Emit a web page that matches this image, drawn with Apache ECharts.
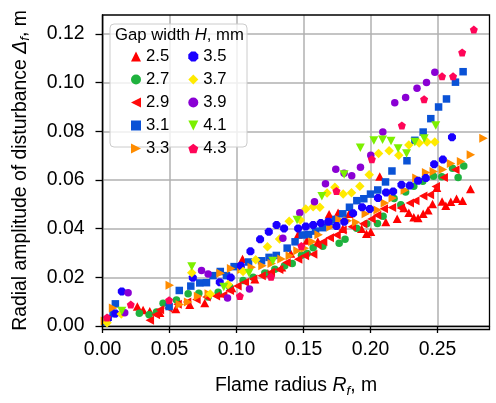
<!DOCTYPE html>
<html><head><meta charset="utf-8">
<script src="https://cdn.jsdelivr.net/npm/echarts@6/dist/echarts.min.js"></script>
<style>html,body{margin:0;padding:0;background:#fff}#c{width:496px;height:403px}</style>
</head><body><div id="c"></div><script>
const gapWidths = ['2.5','2.7','2.9','3.1','3.3','3.5','3.7','3.9','4.1','4.3'];
const xTicks = [0, 0.05, 0.10, 0.15, 0.20, 0.25];
const yTicks = [0, 0.02, 0.04, 0.06, 0.08, 0.10, 0.12];

const H25 = [[0.0260,0.0080],[0.0303,0.0066],[0.0353,0.0061],[0.0428,0.0054],[0.0547,0.0070],[0.0651,0.0087],[0.0763,0.0095],[0.0875,0.0135],[0.0965,0.0156],[0.1045,0.0275],[0.1137,0.0192],[0.1234,0.0217],[0.1338,0.0241],[0.1405,0.0298],[0.1460,0.0376],[0.1525,0.0351],[0.1607,0.0347],[0.1691,0.0459],[0.1758,0.0465],[0.1793,0.0400],[0.1840,0.0461],[0.1933,0.0400],[0.1970,0.0379],[0.2002,0.0387],[0.2069,0.0614],[0.2114,0.0427],[0.2199,0.0441],[0.2249,0.0485],[0.2286,0.0465],[0.2323,0.0447],[0.2355,0.0444],[0.2393,0.0461],[0.2430,0.0476],[0.2463,0.0501],[0.2495,0.0568],[0.2534,0.0512],[0.2562,0.0494],[0.2599,0.0511],[0.2642,0.0523],[0.2687,0.0515],[0.2746,0.0563]];
const H27 = [[0.0025,0.0026],[0.0275,0.0052],[0.0348,0.0046],[0.0403,0.0058],[0.0452,0.0094],[0.0552,0.0107],[0.0639,0.0133],[0.0719,0.0135],[0.0788,0.0119],[0.0863,0.0139],[0.0950,0.0160],[0.1049,0.0187],[0.1124,0.0200],[0.1211,0.0218],[0.1286,0.0233],[0.1360,0.0248],[0.1416,0.0257],[0.1485,0.0291],[0.1528,0.0298],[0.1572,0.0322],[0.1644,0.0328],[0.1766,0.0340],[0.1810,0.0356],[0.1896,0.0402],[0.1972,0.0420],[0.2052,0.0421],[0.2094,0.0451],[0.2176,0.0524],[0.2226,0.0498],[0.2262,0.0551],[0.2323,0.0574],[0.2390,0.0595],[0.2470,0.0615],[0.2532,0.0613],[0.2612,0.0648],[0.2654,0.0610],[0.2696,0.0657]];
const H29 = [[0.0353,0.0024],[0.0398,0.0046],[0.0428,0.0067],[0.0490,0.0074],[0.0560,0.0089],[0.0631,0.0099],[0.0701,0.0109],[0.0776,0.0119],[0.0846,0.0123],[0.0900,0.0126],[0.0950,0.0146],[0.1007,0.0164],[0.1062,0.0180],[0.1124,0.0193],[0.1187,0.0207],[0.1256,0.0221],[0.1318,0.0232],[0.1373,0.0261],[0.1460,0.0274],[0.1510,0.0289],[0.1572,0.0295],[0.1604,0.0333],[0.1646,0.0346],[0.1696,0.0363],[0.1746,0.0374],[0.1791,0.0394],[0.1860,0.0408],[0.1945,0.0420],[0.2007,0.0440],[0.2049,0.0455],[0.2099,0.0482],[0.2160,0.0487],[0.2226,0.0485],[0.2293,0.0505],[0.2334,0.0515],[0.2393,0.0534],[0.2443,0.0539],[0.2487,0.0573],[0.2546,0.0610],[0.2633,0.0642]];
const H31 = [[0.0018,0.0017],[0.0079,0.0051],[0.0096,0.0091],[0.0497,0.0080],[0.0573,0.0146],[0.0659,0.0164],[0.0726,0.0177],[0.0776,0.0178],[0.0825,0.0207],[0.0879,0.0224],[0.0925,0.0207],[0.0982,0.0244],[0.1090,0.0263],[0.1187,0.0268],[0.1243,0.0282],[0.1297,0.0290],[0.1378,0.0320],[0.1437,0.0346],[0.1491,0.0374],[0.1537,0.0376],[0.1590,0.0390],[0.1644,0.0404],[0.1691,0.0428],[0.1741,0.0438],[0.1793,0.0461],[0.1843,0.0488],[0.1898,0.0515],[0.1950,0.0523],[0.2000,0.0542],[0.2054,0.0559],[0.2112,0.0592],[0.2160,0.0637],[0.2272,0.0679],[0.2331,0.0763],[0.2393,0.0797],[0.2450,0.0852],[0.2508,0.0900],[0.2567,0.0933],[0.2634,0.1002],[0.2691,0.1045]];
const H33 = [[0.0018,0.0021],[0.0079,0.0074],[0.0502,0.0167],[0.0577,0.0088],[0.0639,0.0099],[0.0713,0.0122],[0.0793,0.0133],[0.0881,0.0217],[0.0960,0.0236],[0.1037,0.0232],[0.1114,0.0241],[0.1194,0.0248],[0.1263,0.0257],[0.1336,0.0275],[0.1398,0.0289],[0.1455,0.0309],[0.1510,0.0320],[0.1567,0.0346],[0.1613,0.0375],[0.1702,0.0407],[0.1768,0.0437],[0.1831,0.0433],[0.1893,0.0426],[0.1965,0.0461],[0.2053,0.0477],[0.2107,0.0505],[0.2166,0.0526],[0.2256,0.0558],[0.2343,0.0608],[0.2415,0.0631],[0.2472,0.0635],[0.2540,0.0643],[0.2601,0.0668],[0.2676,0.0676],[0.2749,0.0704],[0.2843,0.0772]];
const H35 = [[0.0040,0.0030],[0.0096,0.0051],[0.0144,0.0142],[0.0674,0.0198],[0.0875,0.0180],[0.0957,0.0199],[0.1032,0.0248],[0.1104,0.0307],[0.1176,0.0356],[0.1241,0.0387],[0.1299,0.0415],[0.1355,0.0401],[0.1460,0.0401],[0.1517,0.0409],[0.1572,0.0415],[0.1629,0.0423],[0.1685,0.0428],[0.1746,0.0411],[0.1804,0.0428],[0.1870,0.0463],[0.1937,0.0488],[0.1995,0.0481],[0.2056,0.0526],[0.2116,0.0549],[0.2169,0.0553],[0.2231,0.0580],[0.2293,0.0577],[0.2355,0.0597],[0.2413,0.0608],[0.2475,0.0665],[0.2540,0.0684],[0.2608,0.0776]];
const H37 = [[0.0034,0.0013],[0.0140,0.0049],[0.0666,0.0219],[0.0804,0.0131],[0.0937,0.0171],[0.1049,0.0224],[0.1143,0.0272],[0.1231,0.0326],[0.1321,0.0358],[0.1393,0.0430],[0.1476,0.0436],[0.1517,0.0481],[0.1572,0.0490],[0.1622,0.0488],[0.1676,0.0547],[0.1734,0.0570],[0.1796,0.0542],[0.1858,0.0548],[0.1920,0.0574],[0.1990,0.0622],[0.2060,0.0709],[0.2139,0.0720],[0.2211,0.0702],[0.2286,0.0744],[0.2363,0.0752],[0.2422,0.0756],[0.2480,0.0756]];
const H39 = [[0.0166,0.0054],[0.0191,0.0137],[0.0739,0.0228],[0.0788,0.0214],[0.0933,0.0115],[0.1097,0.0152],[0.1346,0.0361],[0.1472,0.0465],[0.1582,0.0511],[0.1664,0.0585],[0.1741,0.0644],[0.1803,0.0628],[0.1860,0.0617],[0.1925,0.0652],[0.2002,0.0702],[0.2092,0.0797],[0.2181,0.0917],[0.2262,0.0939],[0.2347,0.0977],[0.2418,0.1001],[0.2480,0.1043]];
const H41 = [[0.0144,0.0062],[0.0666,0.0245],[0.0905,0.0160],[0.1093,0.0218],[0.1271,0.0267],[0.1452,0.0436],[0.1637,0.0533],[0.1803,0.0623],[0.1924,0.0733],[0.2025,0.0762],[0.2090,0.0765],[0.2153,0.0760],[0.2206,0.0729],[0.2269,0.0709],[0.2331,0.0756],[0.2401,0.0770],[0.2487,0.0824]];
const H43 = [[0.0034,0.0035],[0.0211,0.0088],[0.0497,0.0106],[0.1025,0.0123],[0.1258,0.0202],[0.1484,0.0329],[0.1746,0.0555],[0.2010,0.0685],[0.2234,0.0824],[0.2400,0.0932],[0.2534,0.1026],[0.2616,0.1026],[0.2684,0.1124],[0.2771,0.1218]];
const seriesValues = [H25, H27, H29, H31, H33, H35, H37, H39, H41, H43];

const FONT = '"Liberation Sans", Arial, sans-serif';
const TRI_UP = 'path://M0,-1L1,1L-1,1Z';
const TRI_LEFT = 'path://M-1,0L1,-1L1,1Z';
const TRI_RIGHT = 'path://M1,0L-1,-1L-1,1Z';
const TRI_DOWN = 'path://M-1,-1L1,-1L0,1Z';
const DIAMOND = 'path://M0,-1L1,0L0,1L-1,0Z';
const SQUARE = 'path://M-1,-1L1,-1L1,1L-1,1Z';
const CIRCLE = 'circle';
const OCT = 'path://M-0.414,-1L0.414,-1L1,-0.414L1,0.414L0.414,1L-0.414,1L-1,0.414L-1,-0.414Z';
const PENT = 'path://M0,-1L0.951,-0.309L0.588,0.809L-0.588,0.809L-0.951,-0.309Z';
const looks = [
  {color:'#ff0000', symbol:TRI_UP, size:[9,8.5]},
  {color:'#1fb23e', symbol:CIRCLE, size:7.5},
  {color:'#ff0a0a', symbol:TRI_LEFT, size:[8.5,9]},
  {color:'#0a52d6', symbol:SQUARE, size:7.5},
  {color:'#ff8c00', symbol:TRI_RIGHT, size:[8.5,9]},
  {color:'#1a00ff', symbol:OCT, size:8},
  {color:'#ffea00', symbol:DIAMOND, size:9.5},
  {color:'#8a00d4', symbol:CIRCLE, size:7.5},
  {color:'#7cf000', symbol:TRI_DOWN, size:[9,8.5]},
  {color:'#ff0558', symbol:PENT, size:8}
];

const series = gapWidths.map((g, i) => ({
  name: g, type: 'scatter', data: seriesValues[i],
  symbol: looks[i].symbol, symbolSize: looks[i].size,
  itemStyle: {color: looks[i].color, opacity: 1},
  emphasis: {disabled: true}, z: 2
}));

const legendCommon = {
  orient: 'vertical', padding: 0, itemWidth: 10, itemHeight: 10, itemGap: 6, z: 10,
  textStyle: {fontSize: 16.7, lineHeight: 14, color: '#000', fontFamily: FONT},
  selectedMode: false
};
const legendItem = i => ({name: gapWidths[i], icon: looks[i].symbol, itemStyle: {color: looks[i].color}});

const chart = echarts.init(document.getElementById('c'), null, {renderer: 'canvas'});
chart.setOption({
  animation: false,
  backgroundColor: '#fff',
  grid: {left: 102.5, right: 6.5, top: 15, bottom: 73.5, containLabel: false},
  xAxis: {
    type: 'value', min: 0, max: 0.2888, interval: 0.05,
    axisLine: {show: true, onZero: false, lineStyle: {color: '#000', width: 1.3}},
    axisTick: {show: true, length: 7, customValues: xTicks, lineStyle: {color: '#000', width: 1.3}},
    axisLabel: {customValues: xTicks, formatter: v => v.toFixed(2), fontSize: 19.4, color: '#000', fontFamily: FONT, margin: 14},
    splitLine: {show: true, lineStyle: {color: '#b0b0b0', width: 1.5}},
    name: 'Flame radius {i|R}{s|f}, m', nameLocation: 'middle', nameGap: 48,
    nameTextStyle: {fontSize: 19.4, color: '#000', fontFamily: FONT, lineHeight: 24,
      rich: {i: {fontStyle: 'italic', fontSize: 19.4, lineHeight: 24, fontFamily: FONT}, s: {fontStyle: 'italic', fontSize: 13.5, lineHeight: 14, verticalAlign: 'bottom', fontFamily: FONT}}}
  },
  yAxis: {
    type: 'value', min: 0, max: 0.1278, interval: 0.02,
    axisLine: {show: true, onZero: false, lineStyle: {color: '#000', width: 1.3}},
    axisTick: {show: true, length: 7, customValues: yTicks, lineStyle: {color: '#000', width: 1.3}},
    axisLabel: {customValues: yTicks, formatter: v => v.toFixed(2), fontSize: 19.4, color: '#000', fontFamily: FONT, margin: 18},
    splitLine: {show: true, lineStyle: {color: '#b0b0b0', width: 1.5}},
    name: 'Radial amplitude of disturbance {d|Δ}{s|f}, m', nameLocation: 'middle', nameGap: 70, nameRotate: 90,
    nameTextStyle: {fontSize: 19.4, color: '#000', fontFamily: FONT, lineHeight: 24,
      rich: {d: {fontStyle: 'italic', fontSize: 19.4, lineHeight: 24, fontFamily: FONT}, s: {fontStyle: 'italic', fontSize: 13.5, lineHeight: 14, verticalAlign: 'bottom', fontFamily: FONT}}}
  },
  legend: [
    Object.assign({}, legendCommon, {data: [0,1,2,3,4].map(legendItem), left: 131, top: 48}),
    Object.assign({}, legendCommon, {data: [5,6,7,8,9].map(legendItem), left: 188.3, top: 48})
  ],
  graphic: [
    {type: 'rect', z: 3, shape: {x: 110, y: 24, width: 137, height: 123, r: 4},
     style: {fill: 'rgba(255,255,255,0.8)', stroke: '#cccccc', lineWidth: 1}},
    {type: 'text', z: 10, style: {x: 115, y: 35.5, text: 'Gap width {i|H}, mm', fontSize: 16.7, fontFamily: FONT, fill: '#000', verticalAlign: 'middle',
      rich: {i: {fontStyle: 'italic', fontSize: 16.7, fontFamily: FONT}}}},
    {type: 'rect', z: 20, silent: true, shape: {x: 102.5, y: 15, width: 387, height: 314.5},
     style: {fill: 'none', stroke: '#000', lineWidth: 1.3}}
  ],
  series: series
});
</script></body></html>
